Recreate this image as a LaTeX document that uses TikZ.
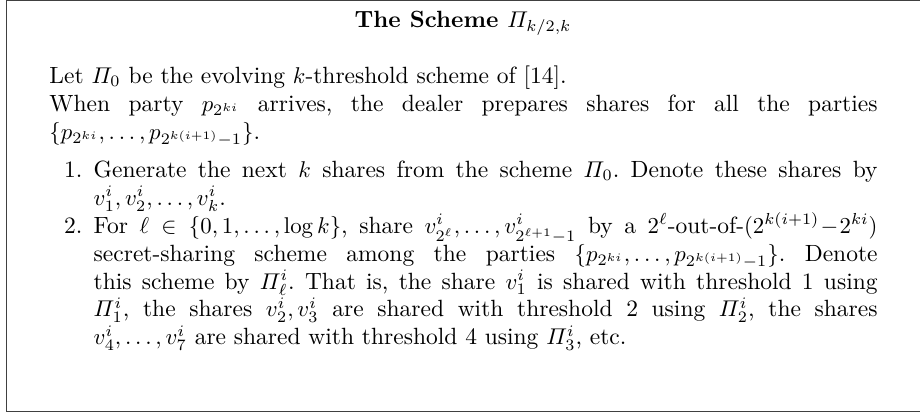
\documentclass[tikz,border=0pt]{standalone}
\usepackage{amsmath,amssymb}
\usepackage{enumitem}
\usepackage{tikz}
\usetikzlibrary{positioning}

\tikzset{
  frameline/.style={draw=black!75,line width=0.5pt},
  boxtext/.style={inner sep=0pt,text width=363.2pt,align=justify,anchor=north west,
    font=\fontsize{10.3}{12.25}\selectfont}
}

\begin{document}
\begin{tikzpicture}[x=1pt,y=1pt]
	\useasboundingbox (0,0) rectangle (403.5,181.6);
	\draw[frameline] (2.85,1.3) rectangle (410,181.4);
	% heading
	\node[font=\fontsize{10.3}{12.25}\bfseries,anchor=base] (title) at (203.1,169.4) {The Scheme $\varPi_{k/2,k}$};
	% body of the scheme
	\node[boxtext] (body) at (21.5,153) {%
		\frenchspacing
		Let $\varPi_0$ be the evolving $k$-threshold scheme of [14].\\
		When party $p_{2^{ki}}$ arrives, the dealer prepares shares for all the parties $\{p_{2^{ki}},\dots,p_{2^{k(i+1)}-1}\}$.
		\begin{enumerate}[leftmargin=19.4pt,rightmargin=0pt,itemsep=0pt,parsep=0pt,topsep=4.5pt]
			\item Generate the next $k$ shares from the scheme $\varPi_0$. Denote these shares by $v_1^i,v_2^i,\dots,v_k^i$.
			\item For $\ell\in\{0,1,\dots,\log k\}$, share $v^i_{2^\ell},\dots,v^i_{2^{\ell+1}-1}$ by a $2^\ell$-out-of-${(2^{k(i+1)}\!-\!2^{ki})}$\linebreak{} secret-sharing scheme among the parties $\{p_{2^{ki}},\dots,p_{2^{k(i+1)}-1}\}$. Denote\linebreak{} this scheme by $\varPi^i_\ell$. That is, the share $v^i_1$ is shared with threshold 1 using\linebreak{} $\varPi^i_1$, the shares $v^i_2,v^i_3$ are shared with threshold 2 using $\varPi^i_2$, the shares\linebreak{} $v^i_4,\dots,v^i_7$ are shared with threshold 4 using $\varPi^i_3$, etc.
		\end{enumerate}
	};
\end{tikzpicture}
\end{document}
